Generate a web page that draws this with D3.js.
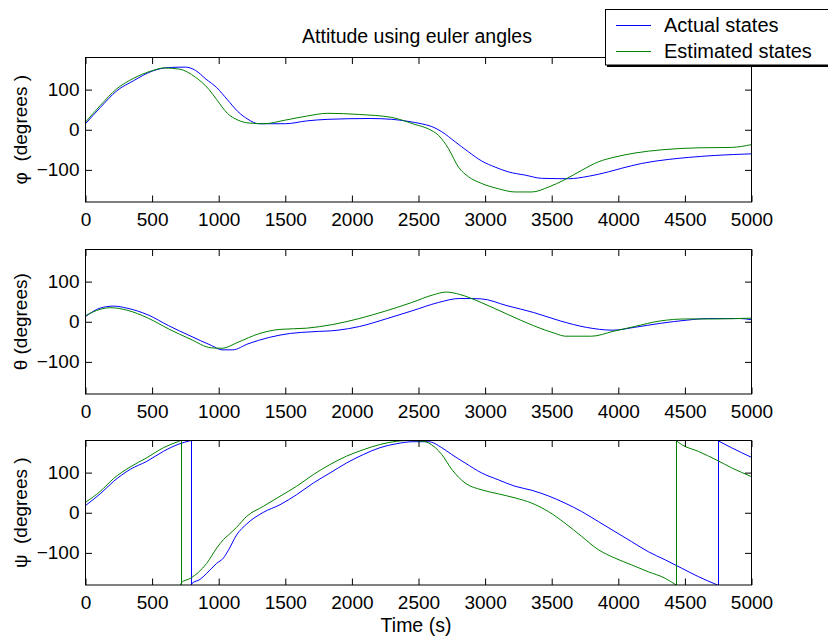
<!DOCTYPE html>
<html>
<head>
<meta charset="utf-8">
<script src="https://cdn.jsdelivr.net/npm/d3@7"></script>
<style>
  body { margin: 0; background: #fff; }
  text { font-family: "Liberation Sans", Arial, sans-serif; fill: #000; white-space: pre; }
</style>
</head>
<body>
<div class="container"></div>
<script>
const WIDTH = 828;
const HEIGHT = 637;

// time ticks and angle ticks
var timeTicks = [0, 500, 1000, 1500, 2000, 2500, 3000, 3500, 4000, 4500, 5000];
var angleTicks = [-100, 0, 100];

var titleText = "Attitude using euler angles";
var xLabel = "Time (s)";
var yLabels = ["\u03c6  (degrees )", "\u03b8 (degrees)", "\u03c8  (degrees )"];
var seriesNames = ["Actual states", "Estimated states"];

// [time, degrees]; a repeated time is the +-180 wrap
var phiActual = [[0,15],[110,55],[235,97],[360,122],[500,146],[625,155],[750,156],[825,148],[905,126],[985,105],
    [1065,75],[1145,45],[1220,26],[1300,15],[1500,15],[1660,22],[1820,26],[2135,28],[2300,26],[2420,21],
    [2520,15],[2600,8],[2675,-5],[2775,-30],[2875,-55],[2975,-78],[3075,-93],[3175,-105],[3300,-113],[3425,-121],
    [3625,-122],[3775,-116],[3925,-105],[4025,-96],[4175,-84],[4375,-74],[4525,-69],[4725,-64],[5000,-60]];
var phiEstimated = [[0,19],[110,60],[235,102],[360,128],[500,147],[590,154],[705,151],[825,131],[925,101],
    [985,75],[1065,41],[1145,24],[1220,17],[1340,15],[1500,24],[1660,34],[1820,41],[2055,38],[2295,31],
    [2475,13],[2575,2],[2650,-14],[2725,-47],[2800,-93],[2875,-117],[2975,-134],[3100,-147],[3225,-155],
    [3350,-155],[3475,-143],[3600,-124],[3725,-101],[3850,-80],[3975,-68],[4125,-58],[4325,-50],
    [4600,-45],[4850,-44],[5000,-37]];

var thetaActual = [[0,13],[110,34],[210,39],[310,34],[470,17],[625,-10],[785,-35],[945,-59],[1025,-70],
    [1105,-70],[1220,-55],[1380,-39],[1540,-29],[1700,-25],[1895,-21],[2055,-12],[2255,7],[2450,27],
    [2650,48],[2810,58],[2970,57],[3165,40],[3365,23],[3565,2],[3760,-14],[3960,-21],[4120,-14],
    [4315,-4],[4515,4],[4675,8],[4915,8],[5000,5]];
var thetaEstimated = [[0,15],[110,31],[190,35],[310,29],[470,9],[625,-18],[785,-43],[945,-65],[1025,-66],
    [1145,-51],[1300,-30],[1460,-19],[1660,-16],[1855,-7],[2055,8],[2255,27],[2450,48],[2610,67],
    [2710,74],[2810,68],[2970,48],[3165,19],[3365,-10],[3525,-29],[3605,-36],[3800,-36],[3960,-24],
    [4120,-12],[4315,2],[4515,7],[4715,7],[5000,9]];

var psiActual = [[0,18],[110,47],[210,78],[335,108],[460,128],[585,153],[700,171],[792,180],[792,-180],
    [800,-176],[860,-166],[910,-151],[985,-126],[1035,-113],[1075,-92],[1135,-55],[1210,-28],[1335,1],
    [1460,20],[1585,45],[1710,74],[1835,99],[1960,124],[2085,145],[2210,162],[2335,172],[2460,177],
    [2575,177],[2675,162],[2750,145],[2850,124],[2975,99],[3100,82],[3225,66],[3350,56],[3475,42],
    [3600,24],[3725,3],[3850,-22],[3975,-47],[4100,-72],[4225,-97],[4350,-117],[4475,-138],[4600,-159],
    [4745,-180],[4745,180],[4850,162],[5000,138]];
var psiEstimated = [[0,26],[110,53],[210,85],[335,114],[460,137],[585,162],[700,178],[715,180],[715,-180],
    [720,-174],[790,-163],[910,-126],[985,-88],[1035,-67],[1075,-55],[1135,-36],[1210,-9],[1335,16],
    [1460,41],[1585,66],[1710,95],[1835,120],[1960,141],[2085,157],[2210,170],[2335,178],[2420,180],
    [2540,178],[2575,174],[2675,145],[2750,108],[2850,74],[2975,57],[3100,47],[3225,37],[3350,24],
    [3475,3],[3600,-26],[3725,-59],[3850,-92],[3975,-113],[4100,-130],[4225,-147],[4350,-163],[4434,-180],
    [4434,180],[4475,170],[4600,153],[4740,131],[4850,112],[5000,90]];

var panels = [
    {label: yLabels[0], actual: phiActual, estimated: phiEstimated},
    {label: yLabels[1], actual: thetaActual, estimated: thetaEstimated},
    {label: yLabels[2], actual: psiActual, estimated: psiEstimated}
];

var left = 85.5, right = 751.5;
var tops = [57.5, 249.5, 440.5];
var panelHeight = 144.5;
var tickLen = 6.5;
var colors = ["#0000ff", "#008000"];

// split a series where the time repeats (wrap), keeping the jump as its own straight piece
var splitSeries = function(pts){
    var smooth = [], jumps = [], cur = [pts[0]];
    for (var k = 1; k < pts.length; k++){
        if (pts[k][0] === pts[k - 1][0]){
            smooth.push(cur);
            jumps.push([pts[k - 1], pts[k]]);
            cur = [pts[k]];
        } else {
            cur.push(pts[k]);
        }
    }
    smooth.push(cur);
    return {smooth: smooth, jumps: jumps};
};

var drawPanel = function(svg, panel, i){
    var top = tops[i];
    var x = d3.scaleLinear().domain([0, 5000]).range([left, right]);
    var y = d3.scaleLinear().domain([-180, 180]).range([top + panelHeight, top]);

    var g = svg.append("g");

    var clipId = "clip" + i;
    svg.append("clipPath").attr("id", clipId)
        .append("rect")
        .attr("x", left).attr("y", top)
        .attr("width", right - left).attr("height", panelHeight);

    var curved = d3.line()
        .curve(d3.curveMonotoneX)
        .x(function(d){ return x(d[0]); })
        .y(function(d){ return y(d[1]); });
    var straight = d3.line()
        .x(function(d){ return Math.round(x(d[0])) + 0.5; })
        .y(function(d){ return y(d[1]); });

    var plot = g.append("g").attr("clip-path", "url(#" + clipId + ")");
    [panel.actual, panel.estimated].forEach(function(series, j){
        var parts = splitSeries(series);
        plot.selectAll("path.s" + j)
            .data(parts.smooth)
            .enter()
            .append("path")
            .attr("class", "s" + j)
            .attr("d", curved)
            .attr("fill", "none")
            .attr("stroke", colors[j]);
        plot.selectAll("path.j" + j)
            .data(parts.jumps)
            .enter()
            .append("path")
            .attr("class", "j" + j)
            .attr("d", straight)
            .attr("fill", "none")
            .attr("stroke", colors[j]);
    });

    // ticks point inward on all four sides
    var fmt = d3.format("d");
    var xAxis = g.append("g")
        .attr("transform", "translate(0," + (top + panelHeight) + ")")
        .call(d3.axisBottom(x).tickValues(timeTicks).tickFormat(fmt).tickSizeInner(-tickLen).tickSizeOuter(0));
    var xTop = g.append("g")
        .attr("transform", "translate(0," + top + ")")
        .call(d3.axisTop(x).tickValues(timeTicks).tickSizeInner(-tickLen).tickSizeOuter(0).tickFormat(""));
    var yAxis = g.append("g")
        .attr("transform", "translate(" + left + ",0)")
        .call(d3.axisLeft(y).tickValues(angleTicks).tickFormat(fmt).tickSizeInner(-tickLen).tickSizeOuter(0).tickPadding(6));
    var yRight = g.append("g")
        .attr("transform", "translate(" + right + ",0)")
        .call(d3.axisRight(y).tickValues(angleTicks).tickSizeInner(-tickLen).tickSizeOuter(0).tickFormat(""));

    [xAxis, xTop, yAxis, yRight].forEach(function(a){
        a.selectAll(".domain").remove();
        a.selectAll("line").attr("stroke", "#000");
        a.selectAll("text")
            .style("font-family", "'Liberation Sans', Arial, sans-serif")
            .style("font-size", "19px")
            .attr("fill", "#000");
    });
    xAxis.selectAll("text").attr("dy", null).attr("y", 23.5);

    g.append("rect")
        .attr("x", left).attr("y", top)
        .attr("width", right - left).attr("height", panelHeight)
        .attr("fill", "none").attr("stroke", "#000");

    g.append("text")
        .attr("transform", "translate(27," + (top + panelHeight / 2) + ") rotate(-90)")
        .attr("text-anchor", "middle")
        .style("font-size", "19px")
        .text(panel.label);
};

var load = function(){
    var svg = d3.select(".container")
        .append("svg")
        .attr("width", WIDTH)
        .attr("height", HEIGHT);

    panels.forEach(function(p, i){ drawPanel(svg, p, i); });

    svg.append("text")
        .attr("x", 417).attr("y", 43)
        .attr("text-anchor", "middle")
        .style("font-size", "19.5px")
        .text(titleText);

    svg.append("text")
        .attr("x", 416).attr("y", 632)
        .attr("text-anchor", "middle")
        .style("font-size", "19.5px")
        .text(xLabel);

    // legend box, opaque, with a shadow edge
    var legend = svg.append("g");
    legend.append("rect")
        .attr("x", 607).attr("y", 12)
        .attr("width", 240).attr("height", 55)
        .attr("fill", "#000");
    legend.append("rect")
        .attr("x", 605.5).attr("y", 9.5)
        .attr("width", 240).attr("height", 55.5)
        .attr("fill", "#fff").attr("stroke", "#000");

    var rows = legend.selectAll("g.row")
        .data(seriesNames)
        .enter()
        .append("g")
        .attr("class", "row")
        .attr("transform", function(d, i){ return "translate(0," + (25 + i * 26) + ")"; });
    rows.append("line")
        .attr("x1", 616).attr("x2", 651)
        .attr("y1", 0.5).attr("y2", 0.5)
        .attr("shape-rendering", "crispEdges")
        .attr("stroke", function(d, i){ return colors[i]; });
    rows.append("text")
        .attr("x", 664).attr("y", 7)
        .style("font-size", "20px")
        .text(function(d){ return d; });
};

window.onload = load;
</script>
</body>
</html>
